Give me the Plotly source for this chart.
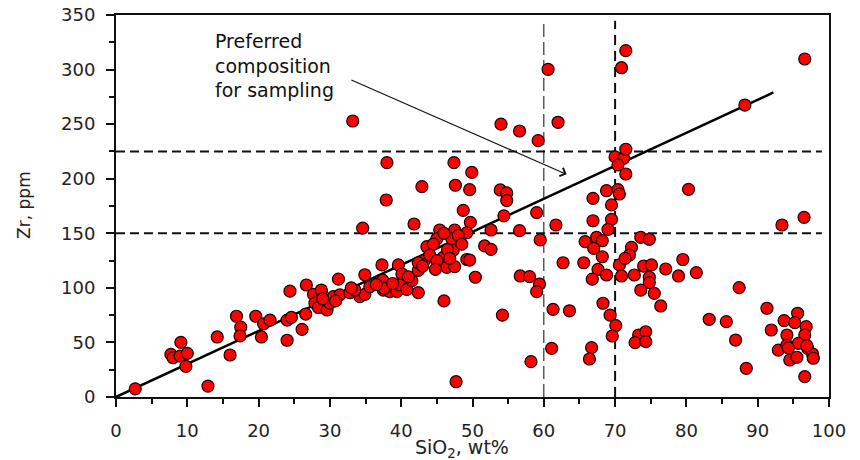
import plotly.graph_objects as go

# SiO2 (wt%) and Zr (ppm) sample values
sio2 = [2.7, 7.7, 8.0, 9.1, 9.0, 10.0, 9.8, 12.9, 14.2, 16.0, 16.9, 17.5, 17.4, 19.6, 20.7, 20.4, 21.6,
        24.0, 24.0, 24.6, 24.4, 26.1, 26.6, 26.7, 27.7, 27.9, 28.4, 28.8, 29.6, 30.0, 30.5, 31.2, 31.4,
        32.8, 34.2, 34.9, 34.9, 35.6, 37.3, 37.4, 37.5, 38.4, 39.4, 39.6, 40.1, 39.8, 40.8, 41.5, 42.4,
        42.4, 43.3, 43.6, 38.0, 37.9, 34.6, 42.9, 47.4, 49.9, 47.6, 49.6, 48.7, 49.7, 41.8, 45.4, 47.5,
        49.2, 45.0, 47.1, 47.3, 45.9, 49.2, 42.4, 46.4, 47.5, 50.4, 28.8, 37.6, 46.0, 47.7,
        44.5, 46.0, 48.0, 44.0, 46.5, 48.5, 43.0, 45.0, 46.8, 44.8, 41.0, 38.8, 36.5, 33.5, 30.8, 29.0, 33.0,
        53.9, 54.8, 54.8, 54.4, 52.6, 56.6, 59.0, 61.7, 59.5, 51.7, 52.6, 49.6, 56.7, 58.0, 59.4, 59.0,
        54.2, 61.3, 63.6, 61.1, 58.2, 62.7, 65.6, 66.9, 66.9, 68.8, 70.4, 70.6, 69.5, 69.5, 69.0, 65.8,
        67.4, 68.2, 67.0, 68.2, 67.6, 66.8, 68.8, 70.6, 70.9, 68.3, 69.3, 70.1, 69.6, 66.7, 66.4, 70.0,
        71.2, 70.4, 71.5, 71.5, 71.5, 70.9, 60.6, 54.0, 56.6, 59.2, 62.0, 33.2, 96.6, 88.2,
        80.3, 93.4, 96.5, 73.6, 74.8, 72.3, 72.0, 71.4, 72.7, 74.0, 75.1, 77.1, 79.5, 78.9, 81.4, 74.8,
        74.8, 73.6, 75.5, 76.4, 87.4, 83.2, 85.6, 86.9, 88.4, 91.3, 91.9, 93.7, 95.6, 95.2, 96.8, 94.1,
        96.6, 92.9, 94.1, 95.7, 97.0, 97.7, 97.8, 94.5, 95.5, 96.6, 73.3, 74.3, 72.8, 74.3, 94.3, 96.9]
zr = [7.5, 39, 36, 50, 37.5, 40, 28, 10, 55, 38.5, 74, 64, 56, 74, 67, 55, 70.5,
      70.5, 52, 73, 97, 62, 76, 102.6, 94, 86, 82, 96.5, 79.7, 86, 92, 108, 93.5,
      95.6, 92, 94, 112, 101, 121, 107, 98, 96.5, 96.5, 121, 112.7, 102.6, 98.6, 106.6, 95.6,
      116, 125.5, 137.7, 214.7, 180.5, 154.8, 192.7, 214.7, 205.8, 194, 190, 171, 160, 158.5, 153, 153,
      150.5, 145, 145, 134.7, 128, 126, 123, 118.8, 119.4, 109.7, 98, 99.6, 88, 14,
      140, 150, 148, 130, 135, 140, 120, 125, 127, 117, 110, 104, 103, 98, 88, 90, 100,
      189.7, 187, 180, 166, 153, 152.4, 169, 157.6, 143.9, 138.4, 135.3, 125.5, 110.9, 110.3, 103.5, 96.5,
      75, 80.3, 79, 44.6, 32.4, 123, 123, 182, 161.5, 189, 190, 186, 176, 162.7, 153.6, 142.3,
      146.3, 143.2, 136.2, 128.5, 117, 108, 111.8, 121, 110.9, 85.9, 75, 65.4, 55.9, 45.2, 34.8, 220,
      218.7, 212.6, 204.3, 227, 317.3, 301.7, 300.2, 250, 243.7, 234.9, 251.7, 252.9, 309.7, 267.5,
      190.3, 157.6, 164.6, 146.3, 144.5, 137.1, 130, 127, 111.8, 120, 121, 117.3, 126, 110.9, 113.9, 109.7,
      104.8, 98, 95, 83.4, 100.2, 71.2, 69, 52.2, 26.3, 81.3, 61.4, 70, 76.7, 68.1, 64.4, 56.8,
      56.8, 43, 47.6, 49.2, 44.6, 39.4, 35.5, 33.9, 36.4, 18.6, 56.8, 59.8, 49.8, 50.7, 45, 47]

# Regression line end points
trend_x = [0, 92.2]
trend_y = [0, 279]

# Reference (dashed) lines
vline_x = [60, 70]
hline_y = [150, 225]

# Texts
x_title = "SiO<sub>2</sub>, wt%"
y_title = "Zr, ppm"
note_text = "Preferred<br>composition<br>for sampling"
note_pos = [13.6, 338]
arrow_tail = [32.8, 291]
arrow_head = [63.2, 204]

x_ticks = list(range(0, 101, 10))
y_ticks = list(range(0, 351, 50))

FONT = "DejaVu Sans"

fig = go.Figure()

fig.add_trace(go.Scatter(
    x=trend_x, y=trend_y, mode="lines",
    line=dict(color="black", width=2.5), hoverinfo="skip", showlegend=False))

fig.add_trace(go.Scatter(
    x=sio2, y=zr, mode="markers",
    marker=dict(color="#ff0000", size=12, line=dict(color="#1a0000", width=1.2)),
    showlegend=False))

# dashed guide lines
fig.add_shape(type="line", xref="x", yref="paper", x0=vline_x[0], x1=vline_x[0], y0=0, y1=0.985,
              line=dict(color="#333", width=1.2, dash="13px,5px"), layer="below")
fig.add_shape(type="line", xref="x", yref="paper", x0=vline_x[1], x1=vline_x[1], y0=0, y1=0.985,
              line=dict(color="#111", width=2, dash="10px,6px"), layer="below")
for yv in hline_y:
    fig.add_shape(type="line", xref="paper", yref="y", x0=0, x1=0.99, y0=yv, y1=yv,
                  line=dict(color="#111", width=2, dash="9px,5px"), layer="below")

fig.add_annotation(x=note_pos[0], y=note_pos[1], xref="x", yref="y", text=note_text,
                   showarrow=False, xanchor="left", yanchor="top", align="left",
                   font=dict(family=FONT, size=19, color="#111"))
fig.add_annotation(x=arrow_head[0], y=arrow_head[1], ax=arrow_tail[0], ay=arrow_tail[1],
                   xref="x", yref="y", axref="x", ayref="y", text="",
                   showarrow=True, arrowhead=4, arrowsize=1.6, arrowwidth=1.1,
                   arrowcolor="#111", standoff=0, startstandoff=0)

# axis titles placed as annotations (paper coordinates)
fig.add_annotation(x=0.485, y=-0.136, xref="paper", yref="paper", text=x_title,
                   showarrow=False, xanchor="center", yanchor="middle",
                   font=dict(family=FONT, size=19, color="#222"))
fig.add_annotation(x=-0.129, y=0.503, xref="paper", yref="paper", text=y_title,
                   showarrow=False, xanchor="center", yanchor="middle", textangle=-90,
                   font=dict(family=FONT, size=17, color="#222"))

axis_common = dict(
    showline=True, linecolor="#111", linewidth=2, mirror=True,
    ticks="outside", ticklen=8, tickwidth=2, tickcolor="#111",
    showgrid=False, zeroline=False, automargin=False,
    ticklabeloverflow="allow",
    tickfont=dict(family=FONT, size=18, color="#222"),
)

fig.update_xaxes(range=[0, 100], tickvals=x_ticks,
                 minor=dict(dtick=5, ticks="outside", ticklen=5, tickwidth=2, tickcolor="#111"),
                 ticklabelstandoff=8, **axis_common)
fig.update_yaxes(range=[0, 350], tickvals=y_ticks,
                 minor=dict(dtick=25, ticks="outside", ticklen=5, tickwidth=2, tickcolor="#111"),
                 ticklabelstandoff=7, **axis_common)

# the page body adds an 8px margin, so the figure is 8px smaller and margins compensate
fig.update_layout(
    width=852, height=452,
    margin=dict(l=108, r=31, t=7, b=63),
    paper_bgcolor="white", plot_bgcolor="white",
)

fig.write_html("out.html")
